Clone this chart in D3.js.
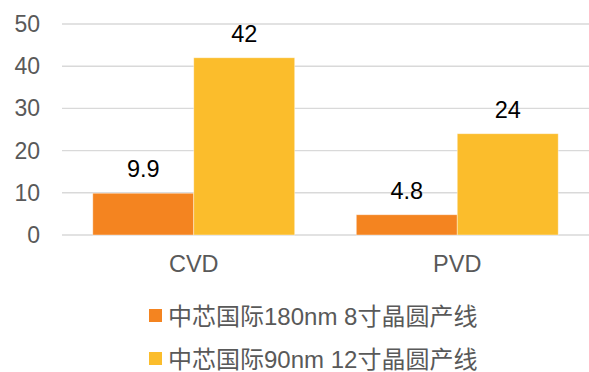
<!DOCTYPE html>
<html>
<head>
<meta charset="utf-8">
<script src="https://cdn.jsdelivr.net/npm/d3@7"></script>
<style>
  body { margin: 0; background: #fff; }
  text { font-family: "Liberation Sans", Arial, "Noto Sans CJK SC", sans-serif; }
</style>
</head>
<body>
<div class="chart"></div>
<script>
var categories = ["CVD", "PVD"];
var seriesNames = ["中芯国际180nm 8寸晶圆产线", "中芯国际90nm 12寸晶圆产线"];
var series180 = [9.9, 4.8];
var series90 = [42, 24];
var yTicks = [0, 10, 20, 30, 40, 50];
var colors = ["#f48420", "#fbbd2c"];

var width = 589, height = 372;
var margin = {left: 62, right: 0, top: 24, bottom: 137};

var svg = d3.select(".chart").append("svg")
    .attr("width", width)
    .attr("height", height);

var y = d3.scaleLinear()
    .domain([0, 50])
    .range([height - margin.bottom, margin.top]);

var x0 = d3.scaleBand()
    .domain(categories)
    .range([margin.left, width - margin.right])
    .padding(0);

var x1 = d3.scaleBand()
    .domain([0, 1])
    .range([0, x0.bandwidth()])
    .paddingInner(0)
    .paddingOuter(0.305);

// gridlines
svg.append("g").selectAll("line")
    .data(yTicks).enter()
    .append("line")
    .attr("x1", margin.left)
    .attr("x2", width)
    .attr("y1", function(d) { return y(d); })
    .attr("y2", function(d) { return y(d); })
    .style("stroke", "#d9d9d9")
    .style("stroke-width", 1.4);

// y tick labels
svg.append("g").selectAll("text")
    .data(yTicks).enter()
    .append("text")
    .attr("x", 40)
    .attr("y", function(d) { return y(d) + 8; })
    .attr("text-anchor", "end")
    .style("font-size", "23px")
    .style("fill", "#595959")
    .text(function(d) { return d; });

var rows = categories.map(function(c, i) {
  return {cat: c, vals: [series180[i], series90[i]]};
});

var groups = svg.append("g").selectAll("g")
    .data(rows).enter()
    .append("g")
    .attr("transform", function(d) { return "translate(" + x0(d.cat) + ",0)"; });

groups.selectAll("rect")
    .data(function(d) { return d.vals; }).enter()
    .append("rect")
    .attr("x", function(d, i) { return x1(i); })
    .attr("y", function(d) { return y(d); })
    .attr("width", x1.bandwidth())
    .attr("height", function(d) { return y(0) - y(d); })
    .style("fill", function(d, i) { return colors[i]; })
    .style("stroke", "#fff")
    .style("stroke-opacity", 0.5)
    .style("stroke-width", 0.8);

groups.selectAll("text")
    .data(function(d) { return d.vals; }).enter()
    .append("text")
    .attr("x", function(d, i) { return x1(i) + x1.bandwidth() / 2; })
    .attr("y", function(d) { return y(d) - 16; })
    .attr("text-anchor", "middle")
    .style("font-size", "23.5px")
    .style("fill", "#000")
    .text(function(d) { return d; });

// category labels
svg.append("g").selectAll("text")
    .data(categories).enter()
    .append("text")
    .attr("x", function(d) { return x0(d) + x0.bandwidth() / 2; })
    .attr("y", 272)
    .attr("text-anchor", "middle")
    .style("font-size", "23.5px")
    .style("fill", "#595959")
    .text(function(d) { return d; });

// legend
var legend = svg.append("g").selectAll("g")
    .data(seriesNames).enter()
    .append("g")
    .attr("transform", function(d, i) { return "translate(149," + (309 + i * 43) + ")"; });

legend.append("rect")
    .attr("width", 13)
    .attr("height", 13)
    .style("fill", function(d, i) { return colors[i]; });

legend.append("text")
    .attr("x", 19)
    .attr("y", 16)
    .style("font-size", "24px")
    .style("fill", "#595959")
    .text(function(d) { return d; });
</script>
</body>
</html>
